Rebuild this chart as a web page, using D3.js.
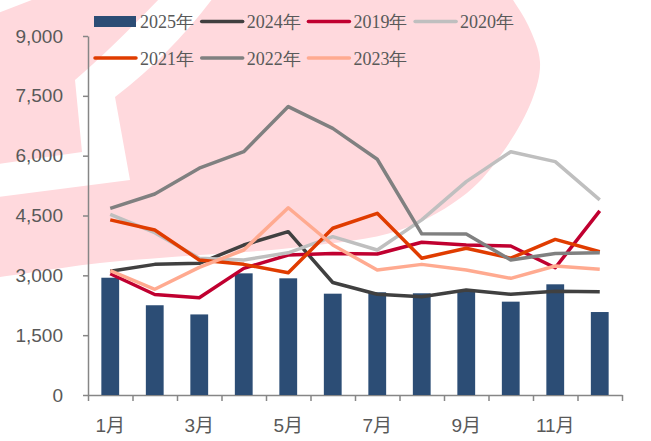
<!DOCTYPE html>
<html lang="zh">
<head>
  <meta charset="UTF-8">
  <title>chart</title>
  <style>
    body { margin: 0; background: #fff; }
    svg { display: block; }
    .axis text { font-family: "Liberation Sans", Arial, "Noto Sans CJK SC", sans-serif; font-size: 19px; fill: #595959; }
  </style>
</head>
<body>
  <script src="https://d3js.org/d3.v7.min.js"></script>
  <script>
    // 月份和刻度
    const months = ['1月', '2月', '3月', '4月', '5月', '6月', '7月', '8月', '9月', '10月', '11月', '12月']
    const yTicks = [0, 1500, 3000, 4500, 6000, 7500, 9000]

    // 各年数据
    const s2025 = [2940, 2250, 2020, 3050, 2925, 2540, 2575, 2550, 2610, 2340, 2775, 2080]
    const s2024 = [3100, 3275, 3300, 3760, 4095, 2820, 2525, 2465, 2630, 2525, 2600, 2590]
    const s2019 = [3040, 2520, 2440, 3175, 3510, 3550, 3535, 3830, 3760, 3735, 3190, 4615]
    const s2020 = [4530, 4070, 3430, 3385, 3565, 3970, 3635, 4390, 5350, 6100, 5850, 4890]
    const s2021 = [4390, 4135, 3385, 3275, 3065, 4180, 4555, 3430, 3680, 3430, 3900, 3590]
    const s2022 = [4680, 5040, 5685, 6100, 7230, 6685, 5910, 4040, 4035, 3385, 3550, 3565]
    const s2023 = [3120, 2650, 3200, 3635, 4695, 3760, 3135, 3275, 3135, 2925, 3235, 3150]

    const lineSeries = [
      { name: '2024年', values: s2024, color: '#404040' },
      { name: '2019年', values: s2019, color: '#C00030' },
      { name: '2020年', values: s2020, color: '#BFBFBF' },
      { name: '2021年', values: s2021, color: '#E03C00' },
      { name: '2022年', values: s2022, color: '#808080' },
      { name: '2023年', values: s2023, color: '#FFAA90' }
    ]
    const barColor = '#2C4D75'

    const width = 651, height = 441
    const margin = { top: 36, right: 29, bottom: 46, left: 88 }

    const svg = d3.select('body').append('svg')
      .attr('width', width)
      .attr('height', height)

    // 背景水印（装饰用）
    const wm = svg.append('g')
    wm.append('path')
      .attr('fill', '#FFD9DD')
      .attr('d', d3.line().curve(d3.curveCatmullRom)([
        [-40, 282], [0, 277], [100, 263], [200, 255], [300, 247], [400, 230],
        [467, 193], [503, 152], [532, 100], [540, 62], [528, 25], [510, -5], [490, -40]
      ]) + 'L-40,-40Z')
    wm.append('path')
      .attr('fill', '#fff')
      .attr('d', 'M160,-2 Q110,50 75,80 L82,152 L-2,164 L-2,197 L130,180 L115,97 Q170,55 213,-2 Z')
    wm.append('path')
      .attr('fill', '#fff')
      .attr('d', 'M-2,-2 L37,-2 L-2,13 Z')

    const x = d3.scaleBand()
      .domain(months)
      .range([margin.left, width - margin.right])
      .paddingInner(0.6)
      .paddingOuter(0.3)

    const xEdge = d3.scaleLinear()
      .domain([0, 12])
      .range([margin.left, width - margin.right])

    const y = d3.scaleLinear()
      .domain([0, 9000])
      .range([height - margin.bottom, margin.top])

    // y轴
    svg.append('g')
      .attr('class', 'axis')
      .attr('transform', `translate(${margin.left},0)`)
      .call(d3.axisLeft(y).tickValues(yTicks).tickFormat(d3.format(',')).tickSize(5).tickSizeOuter(0).tickPadding(20))
      .call(g => g.selectAll('line, path').attr('stroke', '#868686').attr('stroke-width', 1.5))

    // x轴：刻度线在月份之间
    svg.append('g')
      .attr('class', 'axis')
      .attr('transform', `translate(0,${height - margin.bottom})`)
      .call(d3.axisBottom(xEdge).tickValues(d3.range(13)).tickFormat('').tickSize(6).tickSizeOuter(0))
      .call(g => g.selectAll('line, path').attr('stroke', '#868686').attr('stroke-width', 1.5))

    svg.append('g')
      .attr('class', 'axis')
      .attr('transform', `translate(0,${height - margin.bottom})`)
      .call(d3.axisBottom(x).tickValues(months.filter((m, i) => i % 2 === 0)).tickSize(0).tickPadding(24))
      .call(g => g.select('.domain').remove())

    // 2025柱子
    svg.append('g')
      .selectAll('rect')
      .data(s2025)
      .join('rect')
      .attr('x', (d, i) => x(months[i]))
      .attr('y', d => y(d))
      .attr('width', x.bandwidth())
      .attr('height', d => y(0) - y(d))
      .attr('fill', barColor)

    // 折线
    const line = d3.line()
      .x((d, i) => x(months[i]) + x.bandwidth() / 2)
      .y(d => y(d))

    svg.append('g')
      .selectAll('path')
      .data(lineSeries)
      .join('path')
      .attr('d', d => line(d.values))
      .attr('fill', 'none')
      .attr('stroke', d => d.color)
      .attr('stroke-width', 3.5)
      .attr('stroke-linejoin', 'round')

    // 图例
    const legendItems = [{ name: '2025年', color: barColor, bar: true }].concat(lineSeries)
    const legend = svg.append('g')
    const item = legend.selectAll('g')
      .data(legendItems)
      .join('g')
      .attr('transform', (d, i) => `translate(${94 + (i % 4) * 106.7},${i < 4 ? 21.5 : 58})`)

    item.filter(d => d.bar).append('rect')
      .attr('x', 0).attr('y', -5.5).attr('width', 42).attr('height', 11)
      .attr('fill', d => d.color)
    item.filter(d => !d.bar).append('line')
      .attr('x1', 1).attr('x2', 42)
      .attr('stroke', d => d.color)
      .attr('stroke-width', 3.5)
      .attr('stroke-linecap', 'round')
    item.append('text')
      .attr('x', 46)
      .attr('y', 6.5)
      .attr('font-family', "'Liberation Serif', 'DejaVu Serif', serif")
      .attr('font-size', 18)
      .attr('fill', '#595959')
      .text(d => d.name)
  </script>
</body>
</html>
